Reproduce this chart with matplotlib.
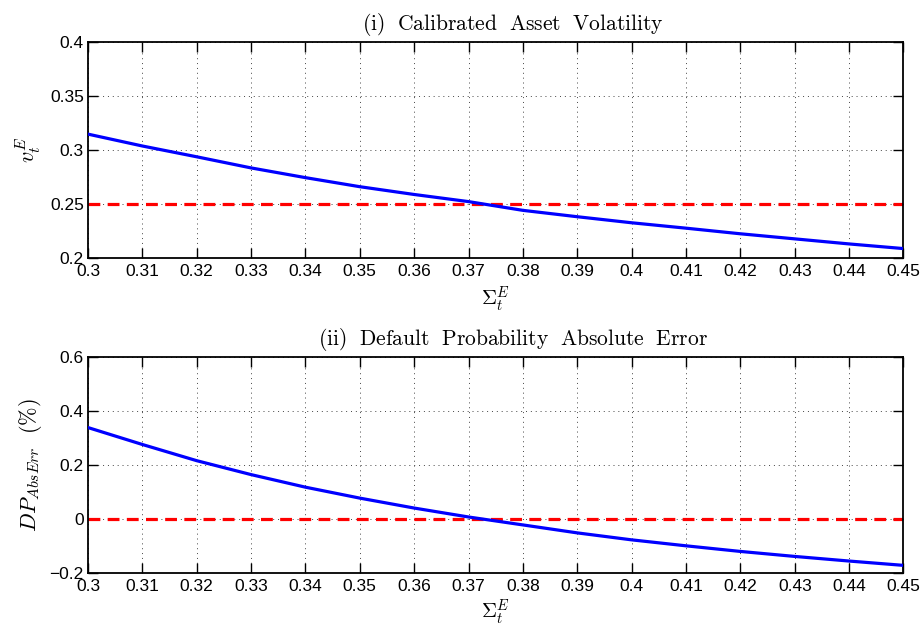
import numpy as np
import matplotlib
matplotlib.use('Agg')
import matplotlib.pyplot as plt

plt.rcParams['mathtext.fontset'] = 'cm'
plt.rcParams['font.family'] = ['Liberation Sans', 'DejaVu Sans']

# equity volatility grid (x axis)
sigma_e = [0.30, 0.31, 0.32, 0.33, 0.34, 0.35, 0.36, 0.37,
           0.38, 0.39, 0.40, 0.41, 0.42, 0.43, 0.44, 0.45]

# (i) calibrated asset volatility
asset_vol = [0.3147, 0.3037, 0.2937, 0.2834, 0.2744, 0.2660, 0.2588, 0.2522,
             0.2441, 0.2382, 0.2326, 0.2276, 0.2224, 0.2177, 0.2130, 0.2087]
true_vol = 0.25

# (ii) default probability absolute error (%)
dp_abserr = [0.3387, 0.2760, 0.2160, 0.1644, 0.1178, 0.0773, 0.0405, 0.0074,
             -0.0220, -0.0515, -0.0773, -0.0994, -0.1202, -0.1387, -0.1558, -0.1718]
zero_err = 0.0

xticks = [0.30, 0.31, 0.32, 0.33, 0.34, 0.35, 0.36, 0.37,
          0.38, 0.39, 0.40, 0.41, 0.42, 0.43, 0.44, 0.45]
xticklabels = ['0.3', '0.31', '0.32', '0.33', '0.34', '0.35', '0.36', '0.37',
               '0.38', '0.39', '0.4', '0.41', '0.42', '0.43', '0.44', '0.45']
yticks_top = [0.2, 0.25, 0.3, 0.35, 0.4]
yticklabels_top = ['0.2', '0.25', '0.3', '0.35', '0.4']
yticks_bot = [-0.2, 0.0, 0.2, 0.4, 0.6]
yticklabels_bot = ['\u22120.2', '0', '0.2', '0.4', '0.6']

fig = plt.figure(figsize=(9.24, 6.26), dpi=100)
ax1 = fig.add_axes([0.0952, 0.5879, 0.8826, 0.345])
ax2 = fig.add_axes([0.0952, 0.0847, 0.8826, 0.345])


def style_axes(ax, yticks, ylabels, ylim):
    ax.set_xlim(0.3, 0.45)
    ax.set_ylim(*ylim)
    ax.set_xticks(xticks)
    ax.set_xticklabels(xticklabels)
    ax.set_yticks(yticks)
    ax.set_yticklabels(ylabels)
    ax.tick_params(direction='in', length=7, width=1.0, top=True, right=True,
                   labelsize=12.5)
    ax.tick_params(axis='x', pad=4)
    ax.tick_params(axis='y', pad=3)
    for s in ax.spines.values():
        s.set_linewidth(1.3)
    ax.grid(True, color='#444444', linestyle=(0, (1, 4)), linewidth=0.7)
    ax.set_axisbelow(True)


# top panel
ax1.plot(sigma_e, [true_vol] * len(sigma_e), color='red', lw=2.3,
         linestyle=(0, (3.7, 2.3)), zorder=2)
ax1.plot(sigma_e, asset_vol, color='blue', lw=2.3, zorder=3)
style_axes(ax1, yticks_top, yticklabels_top, (0.2, 0.4))
ax1.set_title(r'$\mathrm{(i)\ \ Calibrated\ \ Asset\ \ Volatility}$',
              fontsize=15.5, x=0.521, pad=9)
ax1.set_xlabel(r'$\Sigma_t^E$', fontsize=15, labelpad=4)
ax1.set_ylabel(r'$v_t^E$', fontsize=16, labelpad=5)

# bottom panel
ax2.plot(sigma_e, [zero_err] * len(sigma_e), color='red', lw=2.3,
         linestyle=(0, (3.7, 2.3)), zorder=2)
ax2.plot(sigma_e, dp_abserr, color='blue', lw=2.3, zorder=3)
style_axes(ax2, yticks_bot, yticklabels_bot, (-0.2, 0.6))
ax2.set_title(r'$\mathrm{(ii)\ \ Default\ \ Probability\ \ Absolute\ \ Error}$',
              fontsize=15.5, x=0.521, pad=9)
ax2.set_xlabel(r'$\Sigma_t^E$', fontsize=15, labelpad=3)
ax2.set_ylabel(r'$DP_{AbsErr}\ \ (\%)$', fontsize=16, labelpad=4)

fig.savefig('out.png', dpi=100)
